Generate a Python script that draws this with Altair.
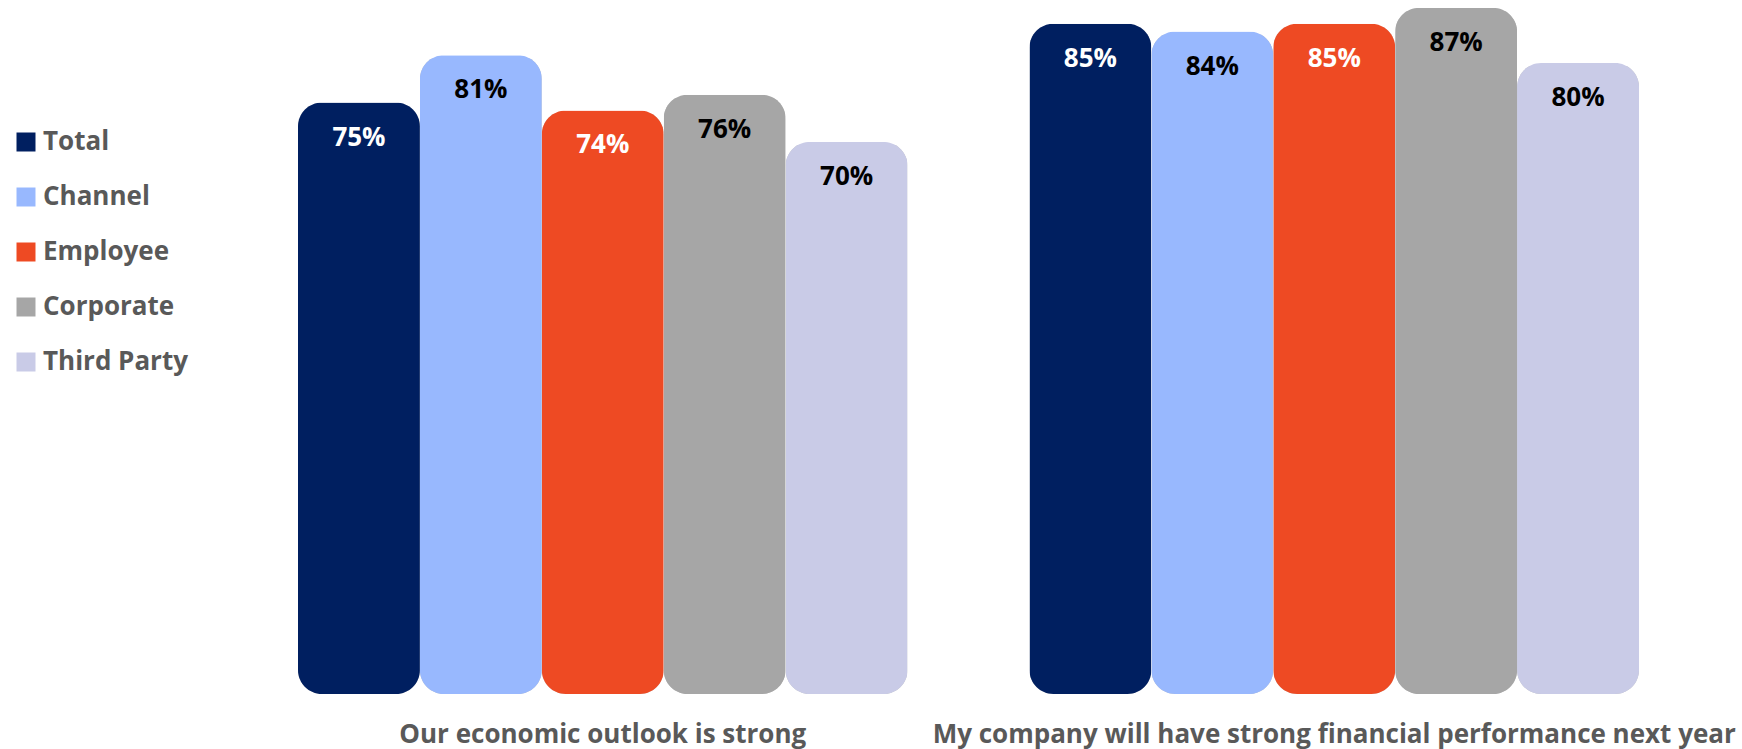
import altair as alt
import pandas as pd

categories = ["Our economic outlook is strong", "My company will have strong financial performance next year"]
series = ["Total", "Channel", "Employee", "Corporate", "Third Party"]
values_outlook = [75, 81, 74, 76, 70]
values_company = [85, 84, 85, 87, 80]
colors = ["#001F60", "#98B8FE", "#EE4A23", "#A6A6A6", "#C9CBE7"]
label_colors = ["#FFFFFF", "#000000", "#FFFFFF", "#000000", "#000000"]

rows = []
for cat, vals in zip(categories, [values_outlook, values_company]):
    for s, v, lc in zip(series, vals, label_colors):
        rows.append({"category": cat, "series": s, "value": v, "label": f"{v}%", "lc": lc})
df = pd.DataFrame(rows)

FONT = "Open Sans"

x = alt.X("category:N", sort=categories,
          scale=alt.Scale(paddingInner=1/6, paddingOuter=0),
          axis=alt.Axis(title=None, domain=False, ticks=False, labelAngle=0,
                        labelFont=FONT, labelFontSize=26, labelFontWeight="bold",
                        labelColor="#595959", labelPadding=27, labelBaseline="top",
                        labelLimit=2000, labelOverlap=False))
xo = alt.XOffset("series:N", sort=series, scale=alt.Scale(paddingInner=0, paddingOuter=0))
y = alt.Y("value:Q", scale=alt.Scale(domain=[0, 88], nice=False, zero=True), axis=None)

base = alt.Chart(df)

shadow = base.mark_bar(color="#000000", opacity=0.25, cornerRadius=24, xOffset=4, yOffset=3).encode(
    x=x, xOffset=xo, y=y
)

bars = base.mark_bar(cornerRadius=24).encode(
    x=x, xOffset=xo, y=y,
    color=alt.Color("series:N", sort=series,
                    scale=alt.Scale(domain=series, range=colors),
                    legend=alt.Legend(title=None, orient="none", legendX=-285, legendY=129,
                                      symbolType="square", symbolSize=361, symbolStrokeWidth=0,
                                      labelFont=FONT, labelFontSize=26, labelFontWeight="bold",
                                      labelColor="#595959", rowPadding=29, labelOffset=4))
)

text = base.mark_text(font=FONT, fontSize=26, fontWeight="bold", baseline="alphabetic", dy=43).encode(
    x=x, xOffset=xo, y=y,
    text="label:N",
    color=alt.Color("lc:N", scale=None)
)

chart = alt.layer(shadow, bars, text).properties(
    width=1341, height=694,
    autosize=alt.AutoSizeParams(type="none"),
    padding={"left": 298, "top": 0, "right": 103, "bottom": 55},
).configure_view(stroke=None)

chart.save("out.html", embed_options={"renderer": "svg", "actions": False})
